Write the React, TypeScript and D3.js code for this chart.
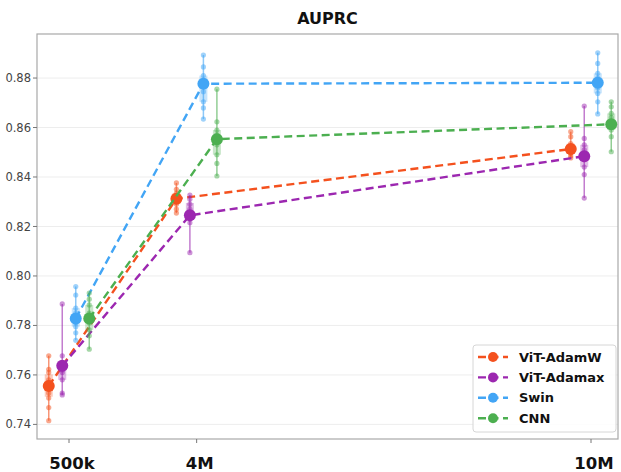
import { useEffect, useRef } from 'react';
import * as d3 from 'd3';

const sizes = [0.5, 4, 10];
const sizeLabels = ['500k', '4M', '10M'];
const yTicks = [0.74, 0.76, 0.78, 0.8, 0.82, 0.84, 0.86, 0.88];

const models = ['ViT-AdamW', 'ViT-Adamax', 'Swin', 'CNN'];
const colors = ['#f4511e', '#9c27b0', '#42a5f5', '#4caf50'];

// mean AUPRC per training size
const meanAdamW = [0.7555, 0.8312, 0.8513];
const meanAdamax = [0.7637, 0.8245, 0.8484];
const meanSwin = [0.7828, 0.8777, 0.8781];
const meanCNN = [0.7828, 0.8553, 0.8613];

// individual runs
const runsAdamW = [
  [0.7415, 0.7468, 0.7507, 0.7527, 0.755, 0.757, 0.758, 0.761, 0.7623, 0.7677],
  [0.8254, 0.827, 0.829, 0.83, 0.8315, 0.8325, 0.8335, 0.835, 0.8376],
  [0.8477, 0.8485, 0.8495, 0.85, 0.851, 0.852, 0.8535, 0.8563, 0.8583],
];
const runsAdamax = [
  [0.7519, 0.7527, 0.758, 0.761, 0.762, 0.7635, 0.765, 0.7677, 0.7887],
  [0.8094, 0.8215, 0.823, 0.825, 0.827, 0.829, 0.831, 0.8327],
  [0.8315, 0.841, 0.844, 0.847, 0.849, 0.851, 0.853, 0.8556, 0.8687],
];
const runsSwin = [
  [0.774, 0.777, 0.7795, 0.781, 0.783, 0.785, 0.787, 0.7923, 0.7957],
  [0.8634, 0.8679, 0.8704, 0.8745, 0.877, 0.879, 0.881, 0.8845, 0.8893],
  [0.8655, 0.8704, 0.8738, 0.876, 0.878, 0.88, 0.8819, 0.8859, 0.8902],
];
const runsCNN = [
  [0.7704, 0.7758, 0.7782, 0.781, 0.7829, 0.785, 0.7883, 0.7906, 0.7931],
  [0.8404, 0.8455, 0.849, 0.853, 0.855, 0.857, 0.859, 0.8623, 0.8755],
  [0.8502, 0.8563, 0.859, 0.861, 0.8625, 0.864, 0.8657, 0.8684, 0.8704],
];

const means = [meanAdamW, meanAdamax, meanSwin, meanCNN];
const runs = [runsAdamW, runsAdamax, runsSwin, runsCNN];

const W = 621, H = 472;
const FONT = '"DejaVu Sans", sans-serif';

export default function App() {
  const ref = useRef<SVGSVGElement | null>(null);
  useEffect(() => {
    const svg = d3.select(ref.current!);
    svg.selectAll('*').remove();
    const frame = { left: 37, right: 618, top: 34, bottom: 439 };
    const x = d3.scalePow().exponent(1.5).domain([0.5, 10]).range([frame.left + 32, frame.right - 27]);
    const y = d3.scaleLinear().domain([0.7341, 0.8978]).range([frame.bottom, frame.top]);
    const dodge = (i: number) => (i - 1.5) * 13.5;

    svg.append('rect').attr('width', W).attr('height', H).attr('fill', '#fff');

    // grid
    svg.append('g').selectAll('line').data(yTicks).enter().append('line')
      .attr('x1', frame.left).attr('x2', frame.right).attr('y1', (d) => y(d)).attr('y2', (d) => y(d))
      .attr('stroke', '#ededed').attr('stroke-width', 1);

    // frame
    svg.append('rect').attr('x', frame.left).attr('y', frame.top)
      .attr('width', frame.right - frame.left).attr('height', frame.bottom - frame.top)
      .attr('fill', 'none').attr('stroke', '#a8a8a8').attr('stroke-width', 1.2);

    // y axis
    const ya = svg.append('g');
    ya.selectAll('line').data(yTicks).enter().append('line')
      .attr('x1', frame.left - 4).attr('x2', frame.left).attr('y1', (d) => y(d)).attr('y2', (d) => y(d))
      .attr('stroke', '#777');
    ya.selectAll('text').data(yTicks).enter().append('text')
      .attr('x', frame.left - 6).attr('y', (d) => y(d)).attr('dy', '0.35em').attr('text-anchor', 'end')
      .attr('font-family', FONT).attr('font-size', 11.5).attr('fill', '#444').text((d) => d3.format('.2f')(d));

    // x axis
    const xa = svg.append('g');
    xa.selectAll('line').data(sizes).enter().append('line')
      .attr('x1', (d) => x(d)).attr('x2', (d) => x(d)).attr('y1', frame.bottom).attr('y2', frame.bottom + 4)
      .attr('stroke', '#777');
    xa.selectAll('text').data(sizes).enter().append('text')
      .attr('x', (d) => x(d) + 3).attr('y', 469).attr('text-anchor', 'middle')
      .attr('font-family', FONT).attr('font-weight', 'bold').attr('font-size', 16.5).attr('fill', '#111')
      .text((_, i) => sizeLabels[i]);

    // title
    svg.append('text').attr('x', (frame.left + frame.right) / 2).attr('y', 24).attr('text-anchor', 'middle')
      .attr('font-family', FONT).attr('font-weight', 'bold').attr('font-size', 16).attr('fill', '#111').text('AUPRC');

    // series
    models.forEach((_, i) => {
      const c = colors[i];
      const g = svg.append('g');
      const line = d3.line<number>().x((_, j) => x(sizes[j]) + dodge(i)).y((d) => y(d));
      g.append('path').attr('d', line(means[i])).attr('fill', 'none').attr('stroke', c)
        .attr('stroke-width', 2.4).attr('stroke-dasharray', '8,4.5');
      runs[i].forEach((vals, j) => {
        const cx = x(sizes[j]) + dodge(i);
        const [lo, hi] = d3.extent(vals) as [number, number];
        const q1 = d3.quantile(vals, 0.25)!;
        const q3 = d3.quantile(vals, 0.75)!;
        g.append('line').attr('x1', cx).attr('x2', cx).attr('y1', y(lo)).attr('y2', y(hi))
          .attr('stroke', c).attr('stroke-width', 1.5).attr('opacity', 0.6);
        g.append('rect').attr('x', cx - 4).attr('width', 8).attr('y', y(q3)).attr('height', y(q1) - y(q3))
          .attr('fill', c).attr('opacity', 0.3);
        g.selectAll(null).data(vals).enter().append('circle')
          .attr('cx', cx).attr('cy', (d) => y(d)).attr('r', 2.6).attr('fill', c).attr('opacity', 0.5);
      });
      g.selectAll(null).data(means[i]).enter().append('circle')
        .attr('cx', (_, j) => x(sizes[j]) + dodge(i)).attr('cy', (d) => y(d)).attr('r', 6).attr('fill', c);
    });

    // legend
    const lg = svg.append('g').attr('transform', 'translate(473,345)');
    lg.append('rect').attr('width', 143).attr('height', 87).attr('rx', 3)
      .attr('fill', '#fff').attr('fill-opacity', 0.85).attr('stroke', '#d6d6d6');
    models.forEach((m, i) => {
      const ry = 12 + i * 20.4;
      lg.append('line').attr('x1', 5).attr('x2', 35).attr('y1', ry).attr('y2', ry)
        .attr('stroke', colors[i]).attr('stroke-width', 2.4).attr('stroke-dasharray', '8,4.5');
      lg.append('circle').attr('cx', 20).attr('cy', ry).attr('r', 5).attr('fill', colors[i]);
      lg.append('text').attr('x', 46).attr('y', ry).attr('dy', '0.35em')
        .attr('font-family', FONT).attr('font-weight', 'bold').attr('font-size', 13).attr('fill', '#111').text(m);
    });
  }, []);
  return <svg ref={ref} width={W} height={H} style={{ position: 'absolute', left: 0, top: 0 }} />;
}
